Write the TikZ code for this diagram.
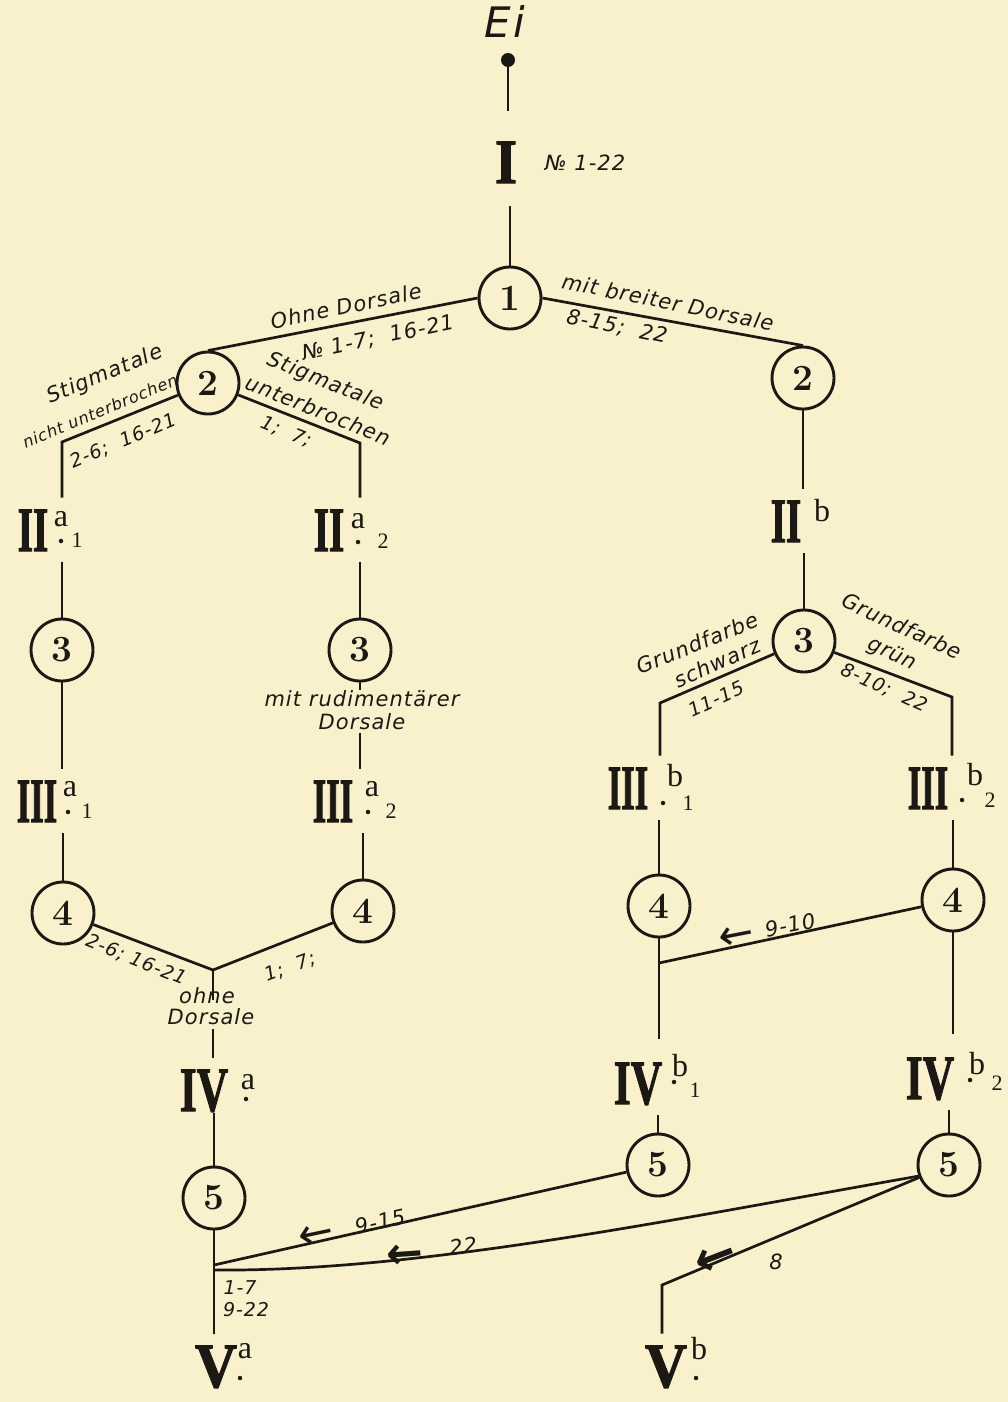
\documentclass[tikz,border=0pt]{standalone}
\usepackage{fontspec}
\usepackage{graphicx}
\usetikzlibrary{calc}
\newfontfamily\lab{DejaVu Sans}[LetterSpace=5]
\newfontfamily\arr{DejaVu Sans}
\newfontfamily\romf{Liberation Serif}[BoldFeatures={FakeBold=2}]
\definecolor{paper}{RGB}{248,241,204}
\definecolor{ink}{RGB}{28,24,20}
\newcommand\RN[2]{\scalebox{#1}[1]{\romf\bfseries\fontsize{63}{63}\selectfont #2}}
\begin{document}
\begin{tikzpicture}[x=1pt,y=-1pt,color=ink,line width=2.7pt,
  circ/.style={circle,draw,line width=2.9pt,minimum size=62pt,inner sep=0pt,font=\bfseries\fontsize{37}{37}\selectfont},
  rn/.style={inner xsep=0pt,inner ysep=10pt,text height=42pt,text depth=0pt},
  supl/.style={inner sep=0pt,font=\romf\fontsize{32}{32}\selectfont},
  subl/.style={inner sep=0pt,font=\romf\fontsize{22}{22}\selectfont},
  lbl/.style={inner sep=0pt,font=\lab\itshape\fontsize{21}{21}\selectfont},
  sml/.style={inner sep=0pt,font=\lab\itshape\fontsize{19}{19}\selectfont},
  dotn/.style={circle,fill,inner sep=0pt,minimum size=4.5pt},
  arrg/.style={inner sep=0pt,font=\arr\fontsize{42}{42}\selectfont},
  arrb/.style={inner sep=0pt,font=\arr\bfseries\fontsize{44}{44}\selectfont}]
\fill[paper] (0,0) rectangle (1008,1402);
\useasboundingbox (0,0) rectangle (1008,1402);

% ---- top
\node[lbl,font=\lab\itshape\fontsize{42}{42}\selectfont] (ei) at (505,22) {Ei};
\coordinate (eidot) at (508,60);
\fill (eidot) circle (7);
\node[rn] (nI) at (506,162) {\RN{0.9}{I}};
\node[lbl] (nIlab) at (585,163) {№ 1-22};
\node[circ] (c1) at (510,298) {1};
\draw (eidot) -- ($(eidot |- nI.north)+(0,-19)$);
\draw ($(c1.north |- nI.south)+(0,12)$) -- (c1.north);

% ---- level 2
\node[circ] (c2L) at (208,383) {2};
\node[circ] (c2R) at (803,378) {2};
\draw (c1.west) -- (c2L.north);
\draw (c1.east) -- (c2R.north);
\node[lbl,rotate=11.7] (ohne) at (346,306) {Ohne Dorsale};
\node[lbl,rotate=11.7] (no17) at (378,338) {№ 1-7;\ \ 16-21};
\node[lbl,rotate=-11.5] (mitbr) at (668,302) {mit breiter Dorsale};
\node[lbl,rotate=-11.5] (n815) at (617,327) {8-15;\ \ 22};

\coordinate (k2a) at (62,442);
\coordinate (k2b) at (360,443);
\node[rn] (IIa1) at (33,530) {\RN{0.62}{II}};
\node[rn] (IIa2) at (329,530) {\RN{0.62}{II}};
\draw (c2L) -- (k2a) -- (k2a |- IIa1.north);
\draw (c2L) -- (k2b) -- (k2b |- IIa2.north);
\node[lbl,rotate=22.5] (stL1) at (105,375) {Stigmatale};
\node[sml,rotate=22.5,font=\lab\itshape\fontsize{16}{16}\selectfont] (stL2) at (100,411) {nicht unterbrochen};
\node[sml,rotate=23] (n26) at (123,441) {2-6;\ \ 16-21};
\node[lbl,rotate=-22] (stR1) at (325,382) {Stigmatale};
\node[lbl,rotate=-22] (stR2) at (318,410) {unterbrochen};
\node[sml,rotate=-22] (n17a) at (286,432) {1;\ \ 7;};

\node[supl] (IIa1s) at (61,519) {a};
\node[dotn] (IIa1d) at (61,541) {};
\node[subl] (IIa1i) at (77,540) {1};
\node[supl] (IIa2s) at (358,521) {a};
\node[dotn] (IIa2d) at (358,542) {};
\node[subl] (IIa2i) at (383,541) {2};

\node[rn] (IIb) at (786,521) {\RN{0.62}{II}};
\node[supl] (IIbs) at (822,511) {b};
\draw (c2R.south) -- (c2R.south |- IIb.north);

% ---- level 3 left
\node[circ] (c3a1) at (62,650) {3};
\node[circ] (c3a2) at (360,650) {3};
\draw (IIa1.south -| c3a1.north) -- (c3a1.north);
\draw (IIa2.south -| c3a2.north) -- (c3a2.north);
\node[rn] (IIIa1) at (37,801) {\RN{0.55}{III}};
\node[rn] (IIIa2) at (333,801) {\RN{0.55}{III}};
\draw (c3a1.south) -- (c3a1.south |- IIIa1.north);
\coordinate (ma) at (360,690);
\coordinate (mb) at (360,733);
\draw (c3a2.south) -- (ma);
\draw (mb) -- (mb |- IIIa2.north);
\node[lbl] (rud1) at (362,699) {mit rudimentärer};
\node[lbl] (rud2) at (362,722) {Dorsale};
\node[supl] (IIIa1s) at (70,789) {a};
\node[dotn] (IIIa1d) at (68,812) {};
\node[subl] (IIIa1i) at (87,811) {1};
\node[supl] (IIIa2s) at (372,789) {a};
\node[dotn] (IIIa2d) at (368,812) {};
\node[subl] (IIIa2i) at (391,811) {2};

% ---- level 3 right
\node[circ] (c3b) at (804,641) {3};
\draw (IIb.south -| c3b.north) -- (c3b.north);
\coordinate (k3a) at (660,703);
\coordinate (k3b) at (952,697);
\node[rn] (IIIb1) at (628,788) {\RN{0.55}{III}};
\node[rn] (IIIb2) at (928,788) {\RN{0.55}{III}};
\draw (c3b) -- (k3a) -- (k3a |- IIIb1.north);
\draw (c3b) -- (k3b) -- (k3b |- IIIb2.north);
\node[lbl,rotate=22] (gfL1) at (697,643) {Grundfarbe};
\node[lbl,rotate=24] (gfL2) at (717,663) {schwarz};
\node[sml,rotate=25] (n1115) at (716,699) {11-15};
\node[lbl,rotate=-25] (gfR1) at (902,626) {Grundfarbe};
\node[lbl,rotate=-25] (gfR2) at (892,654) {grün};
\node[sml,rotate=-24] (n810) at (884,688) {8-10;\ \ 22};
\node[supl] (IIIb1s) at (675,776) {b};
\node[dotn] (IIIb1d) at (663,803) {};
\node[subl] (IIIb1i) at (688,803) {1};
\node[supl] (IIIb2s) at (975,775) {b};
\node[dotn] (IIIb2d) at (962,800) {};
\node[subl] (IIIb2i) at (990,800) {2};

% ---- level 4 left
\node[circ] (c4a1) at (63,913) {4};
\node[circ] (c4a2) at (363,911) {4};
\draw (IIIa1.south -| c4a1.north) -- (c4a1.north);
\draw (IIIa2.south -| c4a2.north) -- (c4a2.north);
\coordinate (j4) at (213,970);
\draw (c4a1) -- (j4) -- (c4a2);
\coordinate (jo) at (213,1000);
\draw (j4) -- (jo);
\node[sml,rotate=-22] (n26b) at (136,960) {2-6; 16-21};
\node[sml,rotate=20] (n17b) at (290,967) {1;\ \ 7;};
\node[lbl] (ohne1) at (207,996) {ohne};
\node[lbl] (ohne2) at (211,1017) {Dorsale};
\node[rn] (IVa) at (204,1090) {\RN{0.69}{IV}};
\coordinate (jo2) at (213,1029);
\draw (jo2) -- (jo2 |- IVa.north);
\node[supl] (IVas) at (248,1082) {a};
\node[dotn] (IVad) at (246,1099) {};

% ---- level 4 right
\node[circ] (c4b1) at (659,906) {4};
\node[circ] (c4b2) at (953,900) {4};
\draw (IIIb1.south -| c4b1.north) -- (c4b1.north);
\draw (IIIb2.south -| c4b2.north) -- (c4b2.north);
\coordinate (j4b) at (659,963);
\node[rn] (IVb1) at (638,1083) {\RN{0.69}{IV}};
\node[rn] (IVb2) at (930,1078) {\RN{0.69}{IV}};
\draw (c4b1.south) -- ($(c4b1.south |- IVb1.north)+(0,-12)$);
\draw (c4b2.south) -- ($(c4b2.south |- IVb2.north)+(0,-12)$);
\draw (c4b2) -- (j4b);
\node[arrg,rotate=11] (a910) at (737,937) {←};
\node[lbl,rotate=11] (n910) at (790,925) {9-10};
\node[supl] (IVb1s) at (680,1066) {b};
\node[dotn] (IVb1d) at (674,1082) {};
\node[subl] (IVb1i) at (695,1090) {1};
\node[supl] (IVb2s) at (977,1064) {b};
\node[dotn] (IVb2d) at (970,1080) {};
\node[subl] (IVb2i) at (997,1083) {2};

% ---- level 5
\node[circ] (c5a) at (214,1198) {5};
\node[circ] (c5b1) at (658,1165) {5};
\node[circ] (c5b2) at (949,1165) {5};
\draw ($(IVa.south -| c5a.north)+(0,-9)$) -- (c5a.north);
\draw (IVb1.south -| c5b1.north) -- (c5b1.north);
\draw (IVb2.south -| c5b2.north) -- (c5b2.north);
\node[rn,inner ysep=2pt] (Va) at (216,1366) {\RN{0.92}{V}};
\node[rn,inner ysep=2pt] (Vb) at (666,1366) {\RN{0.92}{V}};
\draw (c5a.south) -- ($(c5a.south |- Va.north)+(0,-8)$);
\coordinate (j5a) at (214,1265);
\coordinate (j5b) at (214,1270);
\coordinate (k8) at (662,1285);
\draw (c5b1) -- (j5a);
\draw (c5b2.200) .. controls (680,1218) and (420,1272) .. (j5b);
\draw (c5b2) -- (k8) -- ($(k8 |- Vb.north)+(0,-8)$);
\node[arrg,rotate=12] (a915) at (316,1236) {←};
\node[lbl,rotate=12] (n915) at (380,1222) {9-15};
\node[arrb,rotate=4] (a22) at (405,1256) {←};
\node[lbl,rotate=6] (n22) at (463,1246) {22};
\node[arrb,rotate=21,font=\arr\bfseries\fontsize{50}{50}\selectfont] (a8) at (716,1259) {←};
\node[lbl] (n8) at (776,1262) {8};
\node[sml] (n17c) at (240,1288) {1-7};
\node[sml] (n922) at (246,1310) {9-22};
\node[supl] (Vas) at (245,1351) {a};
\node[dotn] (Vad) at (240,1378) {};
\node[supl] (Vbs) at (699,1349) {b};
\node[dotn] (Vbd) at (696,1378) {};
\end{tikzpicture}
\end{document}
